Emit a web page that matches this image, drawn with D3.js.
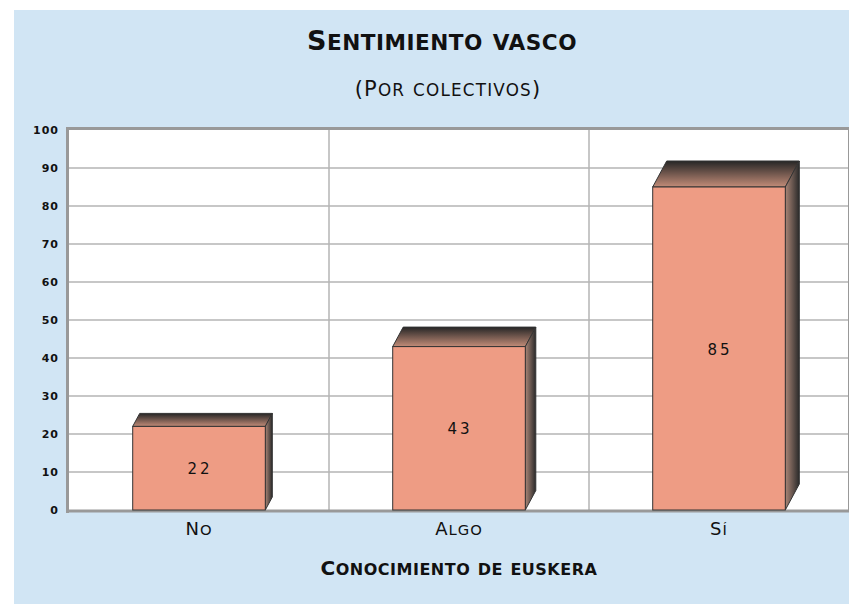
<!doctype html>
<html>
<head>
<script src="https://cdnjs.cloudflare.com/ajax/libs/d3/7.8.5/d3.min.js"></script>
<style>
body { margin: 0; background: #fff; }
text { font-family: "DejaVu Sans", sans-serif; fill: #111; }
.grid line { stroke: #b4b4b4; stroke-width: 1.5; }
</style>
</head>
<body>
<svg id="chart" width="849" height="604"></svg>
<script>
// data
var categories = ["No", "Algo", "Sí"];
var values = [22, 43, 85];
var yTicks = [0, 10, 20, 30, 40, 50, 60, 70, 80, 90, 100];

var svg = d3.select("#chart");
var W = 849, H = 604;

// fake copperplate-ish small caps: lowercase drawn as smaller capitals
function smallCaps(sel, str, size, ratio) {
  sel.text(null);
  var runs = [];
  for (var ch of str) {
    var low = ch !== ch.toUpperCase();
    if (runs.length && runs[runs.length - 1].low === low) runs[runs.length - 1].s += ch;
    else runs.push({ low: low, s: ch });
  }
  runs.forEach(r => {
    sel.append("tspan")
      .style("font-size", (r.low ? size * ratio : size) + "px")
      .text(r.s.toUpperCase());
  });
}

// light blue panel
svg.append("rect")
  .attr("x", 14).attr("y", 10)
  .attr("width", W - 14).attr("height", H - 10)
  .attr("fill", "#d1e5f4");

var plot = { left: 69, right: 849, top: 130, bottom: 510 };

var x = d3.scaleBand()
  .domain(categories)
  .range([plot.left, plot.right])
  .paddingInner(0.49)
  .paddingOuter(0.245);

var y = d3.scaleLinear()
  .domain([0, 100])
  .range([plot.bottom, plot.top]);

// white plot area
svg.append("rect")
  .attr("x", plot.left).attr("y", plot.top)
  .attr("width", plot.right - plot.left).attr("height", plot.bottom - plot.top)
  .attr("fill", "#fff");

// gridlines
var grid = svg.append("g").attr("class", "grid");
grid.selectAll("line.h")
  .data(yTicks.filter(d => d > 0 && d < 100))
  .enter().append("line")
  .attr("x1", plot.left).attr("x2", plot.right)
  .attr("y1", d => y(d)).attr("y2", d => y(d));

var step = x.step();
grid.selectAll("line.v")
  .data(categories.slice(1))
  .enter().append("line")
  .attr("x1", d => x(d) - x.paddingInner() * step / 2)
  .attr("x2", d => x(d) - x.paddingInner() * step / 2)
  .attr("y1", plot.top).attr("y2", plot.bottom);

// frame
svg.append("line").attr("x1", plot.right - 0.5).attr("x2", plot.right - 0.5)
  .attr("y1", plot.top).attr("y2", plot.bottom)
  .attr("stroke", "#999").attr("stroke-width", 1);
svg.append("line").attr("x1", plot.left - 1.5).attr("x2", plot.right)
  .attr("y1", plot.top - 1.5).attr("y2", plot.top - 1.5)
  .attr("stroke", "#999").attr("stroke-width", 3);
svg.append("line").attr("x1", plot.left - 1.5).attr("x2", plot.left - 1.5)
  .attr("y1", plot.top - 3).attr("y2", plot.bottom + 3)
  .attr("stroke", "#999").attr("stroke-width", 3);
svg.append("line").attr("x1", plot.left - 3).attr("x2", plot.right)
  .attr("y1", plot.bottom + 1).attr("y2", plot.bottom + 1)
  .attr("stroke", "#999").attr("stroke-width", 3);

// y axis
var yAxis = d3.axisLeft(y).tickValues(yTicks).tickSize(0).tickPadding(9);
var ya = svg.append("g").attr("transform", "translate(" + (plot.left - 1) + ",0)").call(yAxis);
ya.select(".domain").remove();
ya.selectAll("text")
  .style("font-family", "'DejaVu Sans', sans-serif")
  .style("font-size", "11px").style("font-weight", "bold")
  .style("letter-spacing", "1px").attr("fill", "#111");

// gradients
var defs = svg.append("defs");
var gTop = defs.append("linearGradient").attr("id", "topGrad")
  .attr("x1", 0).attr("y1", 0).attr("x2", 0).attr("y2", 1);
gTop.append("stop").attr("offset", "0%").attr("stop-color", "#262626");
gTop.append("stop").attr("offset", "100%").attr("stop-color", "#c28c78");
var gSide = defs.append("linearGradient").attr("id", "sideGrad")
  .attr("x1", 0).attr("y1", 0).attr("x2", 1).attr("y2", 0);
gSide.append("stop").attr("offset", "0%").attr("stop-color", "#a98576");
gSide.append("stop").attr("offset", "100%").attr("stop-color", "#2a2a2a");

// bars with perspective depth
var bars = svg.append("g").selectAll("g.bar")
  .data(values.map((v, i) => ({ cat: categories[i], value: v })))
  .enter().append("g").attr("class", "bar");

function depth(d) {
  var cx = x(d.cat) + x.bandwidth() / 2;
  var k = 1 + (cx - (plot.left + step / 2)) / (2 * step);
  return { dx: 7 * k, dy: 13 * k };
}

bars.append("path")
  .attr("fill", "url(#topGrad)").attr("stroke", "#333").attr("stroke-width", 1)
  .attr("d", d => {
    var p = depth(d), x0 = x(d.cat), x1 = x0 + x.bandwidth(), t = y(d.value);
    return "M" + x0 + "," + t + "L" + (x0 + p.dx) + "," + (t - p.dy) +
      "L" + (x1 + p.dx) + "," + (t - p.dy) + "L" + x1 + "," + t + "Z";
  });

bars.append("path")
  .attr("fill", "url(#sideGrad)").attr("stroke", "#333").attr("stroke-width", 1)
  .attr("d", d => {
    var p = depth(d), x1 = x(d.cat) + x.bandwidth(), t = y(d.value), b = y(0);
    return "M" + x1 + "," + t + "L" + (x1 + p.dx) + "," + (t - p.dy) +
      "L" + (x1 + p.dx) + "," + (b - p.dy) + "L" + x1 + "," + b + "Z";
  });

bars.append("rect")
  .attr("x", d => x(d.cat))
  .attr("y", d => y(d.value))
  .attr("width", x.bandwidth())
  .attr("height", d => y(0) - y(d.value))
  .attr("fill", "#ee9c84").attr("stroke", "#333").attr("stroke-width", 1);

bars.append("text")
  .attr("x", d => x(d.cat) + x.bandwidth() / 2 + 1)
  .attr("y", d => (y(d.value) + y(0)) / 2 + 6)
  .attr("text-anchor", "middle")
  .style("font-size", "15px").style("letter-spacing", "3px")
  .text(d => d.value);

// x axis labels
var xa = svg.append("g").attr("transform", "translate(0," + plot.bottom + ")")
  .call(d3.axisBottom(x).tickSize(0).tickPadding(18));
xa.select(".domain").remove();
xa.selectAll("text")
  .style("font-family", "'DejaVu Sans', sans-serif")
  .style("letter-spacing", "1px")
  .attr("fill", "#111")
  .each(function(d) { smallCaps(d3.select(this), d, 18, 0.82); });

// titles
smallCaps(svg.append("text")
  .attr("x", 442).attr("y", 50).attr("text-anchor", "middle")
  .style("letter-spacing", "0.5px").style("font-weight", "600"),
  "Sentimiento vasco", 27, 0.8);
smallCaps(svg.append("text")
  .attr("x", 448).attr("y", 96).attr("text-anchor", "middle")
  .style("letter-spacing", "1.2px"),
  "(Por colectivos)", 21, 0.8);
smallCaps(svg.append("text")
  .attr("x", (plot.left + plot.right) / 2).attr("y", 575).attr("text-anchor", "middle")
  .style("letter-spacing", "0.5px").style("font-weight", "bold"),
  "Conocimiento de euskera", 20, 0.8);
</script>
</body>
</html>
